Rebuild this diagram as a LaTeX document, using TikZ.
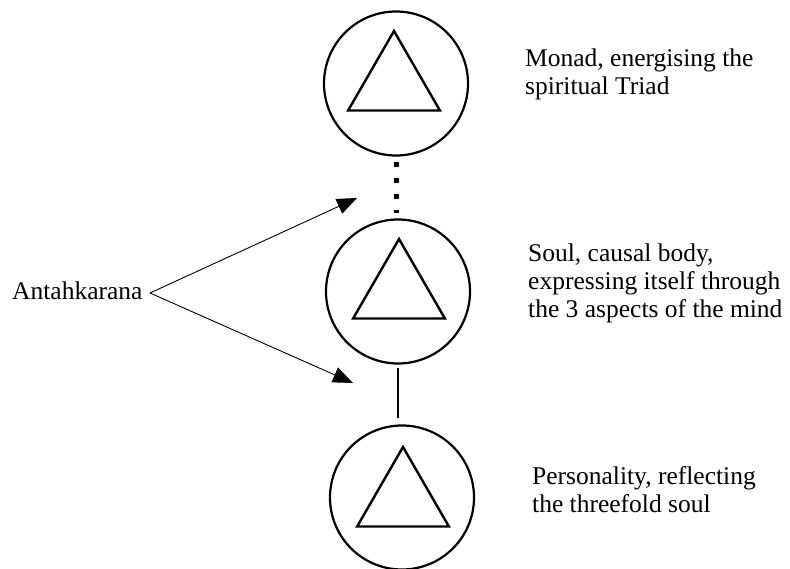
\documentclass[tikz,border=0pt]{standalone}
\usepackage{fontspec}
\setmainfont{Liberation Serif}
\usetikzlibrary{shapes.geometric,arrows.meta}
\begin{document}
\begin{tikzpicture}[x=1pt,y=-1pt,
 ring/.style={circle,draw,line width=2.2pt,minimum size=144pt,inner sep=0pt},
 tri/.style={regular polygon,regular polygon sides=3,draw,line width=2.4pt,minimum size=106pt,inner sep=0pt},
 lbl/.style={anchor=base west,align=left,inner sep=0pt,font=\fontsize{25.5}{28}\selectfont},
 arr/.style={line width=0.9pt,-{Triangle[length=20pt,width=16pt]}}]
\useasboundingbox[fill=white] (0,0) rectangle (790,569);
\node[ring] (c1) at (396,83.5) {};
\node[ring] (c2) at (398,291.5) {};
\node[ring] (c3) at (402,497.5) {};
\node[tri] (t1) at (394,84) {};
\node[tri] (t2) at (399,292) {};
\node[tri] (t3) at (403,500) {};
\draw[line width=5pt,dash pattern=on 5pt off 11pt,shorten <=5pt,shorten >=5pt] (c1.south) -- (c1.south |- c2.north);
\draw[line width=1.2pt,shorten <=3pt,shorten >=6pt] (c2.south) -- (c2.south |- c3.north);
\node[lbl] (ant) at (12,300) {Antahkarana};
\coordinate (a1) at (357,198);
\coordinate (a2) at (353,383);
\coordinate (fork) at (150,293);
\draw[arr] (fork) -- (a1);
\draw[arr] (fork) -- (a2);
\node[lbl] (m) at (525,95) {Monad, energising the\\spiritual Triad};
\node[lbl] (s) at (528,318) {Soul, causal body,\\expressing itself through\\the 3 aspects of the mind};
\node[lbl] (p) at (532,512) {Personality, reflecting\\the threefold soul};
\end{tikzpicture}
\end{document}
